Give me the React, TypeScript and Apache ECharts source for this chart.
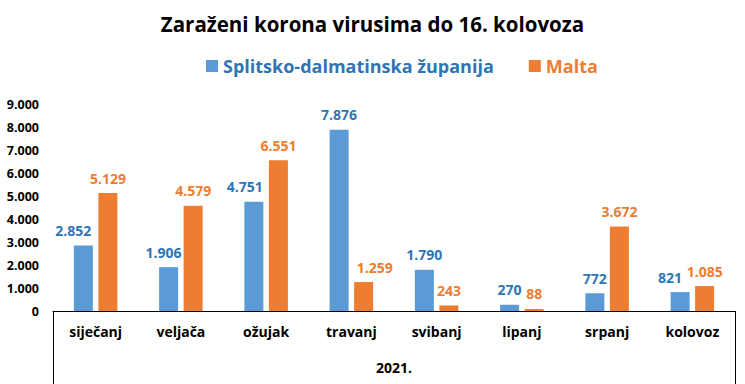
import React, { useEffect, useRef } from "react";
import * as echarts from "echarts";

const months = ["siječanj", "veljača", "ožujak", "travanj", "svibanj", "lipanj", "srpanj", "kolovoz"];
const yearLabel = ["2021."];
const splitValues = [2852, 1906, 4751, 7876, 1790, 270, 772, 821];
const maltaValues = [5129, 4579, 6551, 1259, 243, 88, 3672, 1085];
const seriesNames = ["Splitsko-dalmatinska županija", "Malta"];
const titleText = "Zaraženi korona virusima do 16. kolovoza";

// label nudges (style only) to mimic the original label placement
const splitNudge = [-10, -5, -9, 0, 0, 0, 0, -10];
const maltaNudge = [0, 0, 0, 11, 0, 0, 0, 0];

const FONT = "Open Sans";
const BLUE = "#5B9BD5";
const BLUE_TXT = "#2E75B6";
const ORANGE = "#ED7D31";

const fmt = (v: number) => String(v).replace(/\B(?=(\d{3})+(?!\d))/g, ".");

export default function App() {
  const ref = useRef<HTMLDivElement>(null);
  useEffect(() => {
    if (!ref.current) return;
    const chart = echarts.init(ref.current, undefined, { renderer: "svg" });
    const mk = (vals: number[], nudge: number[]) =>
      vals.map((v, i) => ({ value: v, label: { offset: [nudge[i], 0] } }));
    const labelStyle = (color: string) => ({
      show: true,
      position: "top",
      distance: 8,
      fontFamily: FONT,
      fontSize: 14,
      fontWeight: "bold",
      color,
      formatter: (p: any) => fmt(p.value),
    });
    chart.setOption({
      animation: false,
      backgroundColor: "#fff",
      title: {
        text: titleText,
        left: "center",
        top: 8,
        textStyle: { fontFamily: FONT, fontSize: 20.5, fontWeight: "bold", color: "#000" },
      },
      legend: {
        top: 52,
        left: 201,
        icon: "rect",
        itemWidth: 12,
        itemHeight: 12,
        itemGap: 35,
        textStyle: { fontFamily: FONT, fontSize: 18, fontWeight: "bold" },
        data: [
          { name: seriesNames[0], textStyle: { color: BLUE_TXT } },
          { name: seriesNames[1], textStyle: { color: ORANGE } },
        ],
      },
      grid: { left: 53, right: 10, top: 104, bottom: 73, containLabel: false },
      xAxis: [
        {
          type: "category",
          data: months,
          axisLine: { show: true, lineStyle: { color: "#000", width: 1 } },
          axisTick: { show: false },
          axisLabel: { margin: 13, fontFamily: FONT, fontSize: 14, fontWeight: "bold", color: "#000" },
        },
        {
          type: "category",
          data: yearLabel,
          position: "bottom",
          offset: 0,
          axisLine: { show: false },
          axisTick: { show: true, length: 73, lineStyle: { color: "#000", width: 1 } },
          axisLabel: { margin: 49, fontFamily: FONT, fontSize: 14, fontWeight: "bold", color: "#000" },
        },
      ],
      yAxis: {
        type: "value",
        min: 0,
        max: 9000,
        interval: 1000,
        splitLine: { show: false },
        axisLine: { show: false },
        axisTick: { show: false },
        axisLabel: {
          margin: 14,
          fontFamily: FONT,
          fontSize: 12.5,
          fontWeight: "bold",
          color: "#000",
          formatter: (v: number) => fmt(v),
        },
      },
      series: [
        {
          name: seriesNames[0],
          type: "bar",
          xAxisIndex: 0,
          data: mk(splitValues, splitNudge),
          barWidth: "22.3%",
          barGap: "29%",
          itemStyle: { color: BLUE },
          label: labelStyle(BLUE_TXT),
        },
        {
          name: seriesNames[1],
          type: "bar",
          xAxisIndex: 0,
          data: mk(maltaValues, maltaNudge),
          barWidth: "22.3%",
          barGap: "29%",
          itemStyle: { color: ORANGE },
          label: labelStyle(ORANGE),
        },
      ],
    });
    return () => chart.dispose();
  }, []);
  return (
    <div
      ref={ref}
      style={{ position: "absolute", left: 0, top: 0, width: 745, height: 384 }}
    />
  );
}
